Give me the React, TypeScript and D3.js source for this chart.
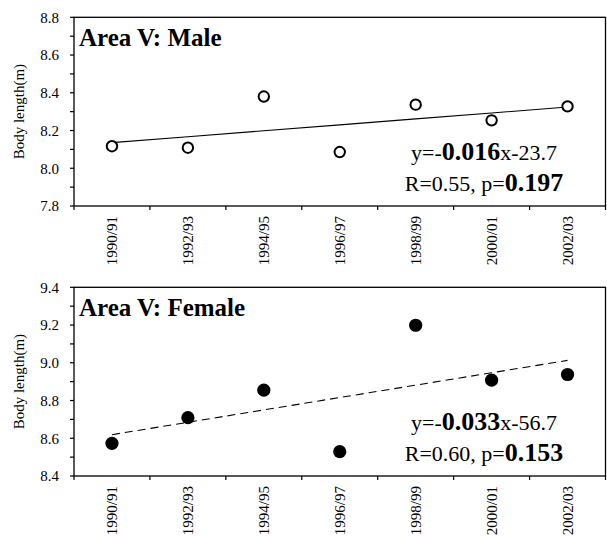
import React from "react";
import * as d3 from "d3";

// Survey seasons shared by both panels
const seasons = ["1990/91", "1992/93", "1994/95", "1996/97", "1998/99", "2000/01", "2002/03"];

// Mean body length (m) per season
const maleLength = [8.117, 8.109, 8.38, 8.086, 8.337, 8.254, 8.328];
const femaleLength = [8.573, 8.709, 8.855, 8.529, 9.199, 8.908, 8.938];

// Y axis ranges and labelled ticks
const maleDomain = [7.8, 8.8];
const femaleDomain = [8.4, 9.4];
const maleTicks = [7.8, 8.0, 8.2, 8.4, 8.6, 8.8];
const femaleTicks = [8.4, 8.6, 8.8, 9.0, 9.2, 9.4];

// Regression annotations
const maleEq = { a: "y=-", slope: "0.016", b: "x-23.7", r: "R=0.55, p=", p: "0.197" };
const femaleEq = { a: "y=-", slope: "0.033", b: "x-56.7", r: "R=0.60, p=", p: "0.153" };

const W = 607;
const H = 536;
const FONT = "Liberation Serif, DejaVu Serif, serif";

function leastSquares(values: number[]) {
  const xs = values.map((_, i) => i);
  const mx = d3.mean(xs)!;
  const my = d3.mean(values)!;
  let num = 0;
  let den = 0;
  xs.forEach((x, i) => {
    num += (x - mx) * (values[i] - my);
    den += (x - mx) * (x - mx);
  });
  const slope = num / den;
  const intercept = my - slope * mx;
  return (i: number) => intercept + slope * i;
}

type PanelProps = {
  top: number;
  title: string;
  values: number[];
  domain: number[];
  ticks: number[];
  filled: boolean;
  dashed: boolean;
  eq: { a: string; slope: string; b: string; r: string; p: string };
};

function Panel({ top, title, values, domain, ticks, filled, dashed, eq }: PanelProps) {
  const left = 74;
  const right = 605.5;
  const plotH = 188.7;
  const bottom = top + plotH;

  const x = d3.scaleBand<string>().domain(seasons).range([left, right]).padding(0);
  const y = d3.scaleLinear().domain(domain).range([bottom, top]);
  const cx = (s: string) => x(s)! + x.bandwidth() / 2;

  const minorTicks = d3.range(Math.round((domain[1] - domain[0]) / 0.1) + 1).map((i) => domain[0] + i * 0.1);
  const fit = leastSquares(values);
  const trend = d3
    .line<number>()
    .x((i) => cx(seasons[i]))
    .y((i) => y(fit(i)));

  const boundaries = seasons.map((s) => x(s)!).concat([right]);

  return (
    <g>
      {/* plot frame */}
      <rect x={left} y={top} width={right - left} height={plotH} fill="none" stroke="#000" strokeWidth={1.3} />

      {/* y ticks */}
      {minorTicks.map((t, i) => (
        <line key={"yt" + i} x1={left - 4} x2={left} y1={y(t)} y2={y(t)} stroke="#000" strokeWidth={1.2} />
      ))}
      {ticks.map((t) => (
        <text
          key={"yl" + t}
          x={59}
          y={y(t)}
          dy="0.35em"
          textAnchor="end"
          fontFamily={FONT}
          fontSize={15}
        >
          {t.toFixed(1)}
        </text>
      ))}

      {/* x ticks on category boundaries */}
      {boundaries.map((bx, i) => (
        <line key={"xt" + i} x1={bx} x2={bx} y1={bottom} y2={bottom + 4} stroke="#000" strokeWidth={1.2} />
      ))}
      {seasons.map((s) => (
        <text
          key={"xl" + s}
          transform={`translate(${cx(s)},${bottom + 10}) rotate(-90)`}
          dy="0.35em"
          textAnchor="end"
          fontFamily={FONT}
          fontSize={15}
        >
          {s}
        </text>
      ))}

      {/* axis title */}
      <text
        transform={`translate(24,${(top + bottom) / 2}) rotate(-90)`}
        textAnchor="middle"
        fontFamily={FONT}
        fontSize={15}
      >
        Body length(m)
      </text>

      {/* panel title */}
      <text x={79} y={top + 29} fontFamily={FONT} fontSize={25} fontWeight="bold">
        {title}
      </text>

      {/* trend line */}
      <path
        d={trend(d3.range(values.length)) || ""}
        fill="none"
        stroke="#000"
        strokeWidth={1.1}
        strokeDasharray={dashed ? "8,5" : undefined}
      />

      {/* observations */}
      {values.map((v, i) =>
        filled ? (
          <circle key={"pt" + i} cx={cx(seasons[i])} cy={y(v)} r={6.6} fill="#000" />
        ) : (
          <circle key={"pt" + i} cx={cx(seasons[i])} cy={y(v)} r={5.2} fill="#fff" stroke="#000" strokeWidth={2} />
        )
      )}

      {/* regression annotation */}
      <text x={484} y={top + 142.5} textAnchor="middle" fontFamily={FONT} fontSize={22}>
        <tspan>{eq.a}</tspan>
        <tspan fontWeight="bold" fontSize={26}>{eq.slope}</tspan>
        <tspan>{eq.b}</tspan>
      </text>
      <text x={484} y={top + 173.5} textAnchor="middle" fontFamily={FONT} fontSize={22}>
        <tspan>{eq.r}</tspan>
        <tspan fontWeight="bold" fontSize={26}>{eq.p}</tspan>
      </text>
    </g>
  );
}

export default function App() {
  return (
    <svg width={W} height={H} style={{ position: "absolute", left: 0, top: 0, background: "#fff" }}>
      <rect width={W} height={H} fill="#fff" />
      <Panel
        top={17.3}
        title="Area V: Male"
        values={maleLength}
        domain={maleDomain}
        ticks={maleTicks}
        filled={false}
        dashed={false}
        eq={maleEq}
      />
      <Panel
        top={287.3}
        title="Area V: Female"
        values={femaleLength}
        domain={femaleDomain}
        ticks={femaleTicks}
        filled={true}
        dashed={true}
        eq={femaleEq}
      />
    </svg>
  );
}
